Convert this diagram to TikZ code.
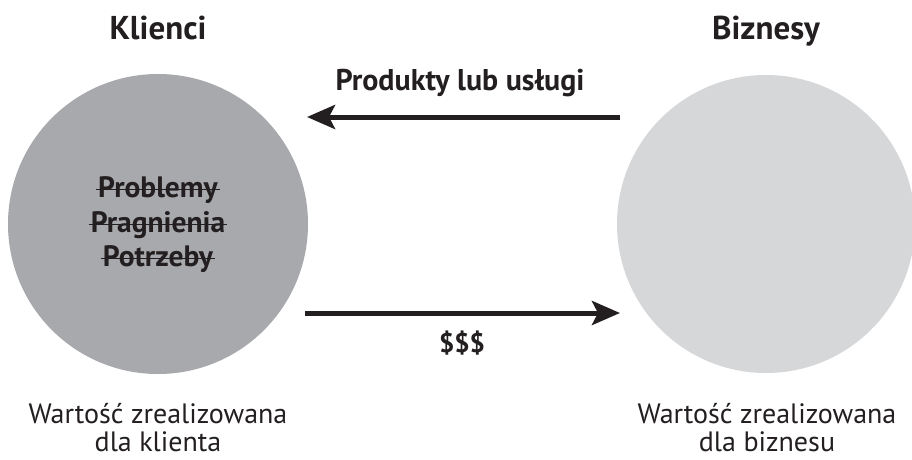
\documentclass[tikz,border=0pt]{standalone}
\usepackage{fontspec}
\setmainfont{PT Sans}
\usetikzlibrary{arrows.meta}
\definecolor{lgray}{RGB}{168,169,172}
\definecolor{rgray}{RGB}{214,215,217}
\definecolor{ink}{RGB}{35,31,32}
\tikzset{
  circ/.style={circle, inner sep=0pt, minimum size=#1},
  title/.style={font=\bfseries\fontsize{33}{38}\selectfont, text=ink, inner sep=0pt, anchor=base},
  strk/.style={font=\bfseries\fontsize{29.5}{34}\selectfont, text=ink, inner sep=0pt, anchor=base},
  lbl/.style={font=\bfseries\fontsize{30}{34}\selectfont, text=ink, inner sep=0pt, anchor=base},
  bottom/.style={font=\fontsize{28}{28}\selectfont, text=ink, inner sep=0pt, align=center, anchor=base},
  strikeline/.style={draw=ink, line width=1.6pt},
  flow/.style={draw=ink, line width=5pt, -{Stealth[length=28pt, width=24pt, inset=6pt]}}
}
\begin{document}
\begin{tikzpicture}[x=1pt, y=-1pt]
\useasboundingbox (0,0) rectangle (912,460);
\fill[white] (0,0) rectangle (912,460);
\node[circ=300pt, fill=lgray] (L) at (158,224) {};
\node[circ=298pt, fill=rgray] (R) at (766,224) {};
\node[title] (kl) at (158,40) {Klienci};
\node[title] (bz) at (766,40) {Biznesy};
\node[strk] (p1) at (158,197) {Problemy};
\node[strk] (p2) at (158,232) {Pragnienia};
\node[strk] (p3) at (158,266) {Potrzeby};
\foreach \n in {p1,p2,p3}
  \draw[strikeline] ([xshift=-2pt,yshift=7.5pt]\n.base west) -- ([xshift=2pt,yshift=7.5pt]\n.base east);
\coordinate (t1) at (620,117);
\coordinate (t2) at (307,117);
\coordinate (b1) at (305,313);
\coordinate (b2) at (620,313);
\draw[flow] (t1) -- (t2);
\draw[flow] (b1) -- (b2);
\node[lbl] (prod) at (460,90) {Produkty lub usługi};
\node[lbl, font=\bfseries\fontsize{27}{32}\selectfont] (usd) at (462,352) {\$\$\$};
\node[bottom] (wl) at (158,451) {Wartość zrealizowana\\dla klienta};
\node[bottom] (wr) at (767,451) {Wartość zrealizowana\\dla biznesu};
\end{tikzpicture}
\end{document}
